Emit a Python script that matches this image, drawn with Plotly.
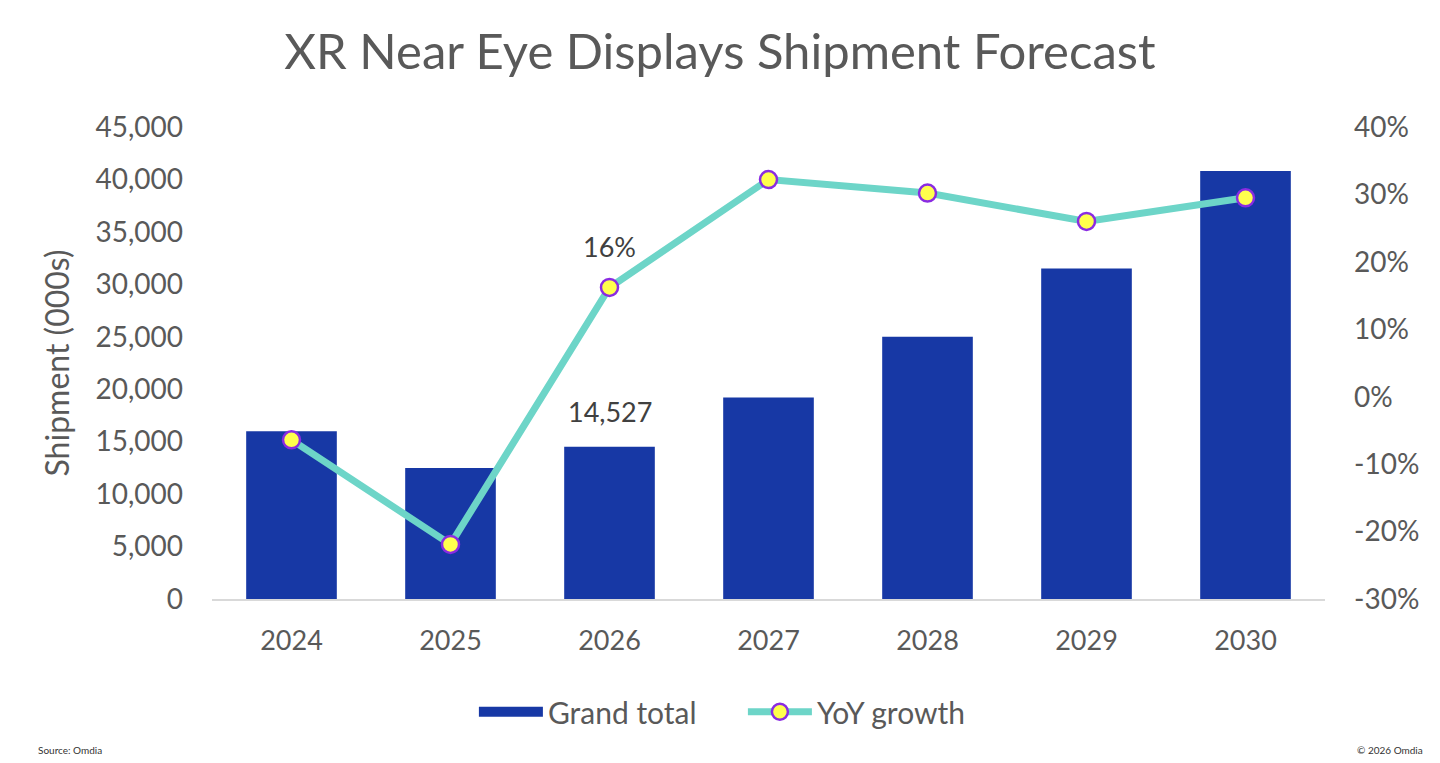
import plotly.graph_objects as go

years = ["2024", "2025", "2026", "2027", "2028", "2029", "2030"]
grand_total = [16000, 12500, 14527, 19200, 25000, 31500, 40800]
yoy_growth = [-0.064, -0.219, 0.162, 0.322, 0.302, 0.260, 0.295]
pct_ticks = [-0.30, -0.20, -0.10, 0.0, 0.10, 0.20, 0.30, 0.40]
pct_tick_labels = ["-30%", "-20%", "-10%", "0%", "10%", "20%", "30%", "40%"]
label_index = 2  # 2026 carries data labels
bar_label = "14,527"
line_label = "16%"

FONT = "Lato, Open Sans, sans-serif"
GREY = "#595959"
BLUE = "#1738A5"

fig = go.Figure()
fig.add_trace(go.Bar(
    x=years, y=grand_total, name="Grand total", showlegend=False,
    marker=dict(color=BLUE, line=dict(width=0)),
))
# legend swatch for bars (wide rectangle)
fig.add_trace(go.Scatter(
    x=[years[0]], y=[None], name="Grand total", mode="lines",
    line=dict(color=BLUE, width=18),
))
fig.add_trace(go.Scatter(
    x=years, y=yoy_growth, name="YoY growth", yaxis="y2",
    mode="lines+markers",
    line=dict(color="#6DD5C8", width=7),
    marker=dict(size=17, color="#FFFF4D", line=dict(color="#8A2BE2", width=2.5)),
    cliponaxis=False,
))

fig.update_layout(
    width=1440, height=763,
    paper_bgcolor="white", plot_bgcolor="white",
    margin=dict(l=204, r=123, t=119, b=172),
    font=dict(family=FONT, color=GREY),
    title=dict(text="XR Near Eye Displays Shipment Forecast", x=0.4944, xanchor="center",
               y=0.942, yanchor="middle", font=dict(size=49, color=GREY, family=FONT)),
    bargap=0.43,
    showlegend=True,
    legend=dict(orientation="h", x=0.477, xanchor="center", y=-0.239, yanchor="middle",
                font=dict(size=30, color=GREY, family=FONT), itemwidth=64,
                entrywidth=190, traceorder="normal"),
    xaxis=dict(type="category", categoryorder="array", categoryarray=years,
               range=[-0.5, len(years) - 0.5],
               showgrid=False, showline=True, linecolor="#D9D9D9", linewidth=2,
               tickfont=dict(size=27, color=GREY), ticks="", ticklabelstandoff=17),
    yaxis=dict(range=[0, 45000], dtick=5000, tickformat=",", showgrid=False, zeroline=False,
               tickfont=dict(size=28, color=GREY), ticklabelstandoff=28,
               title=dict(text="Shipment (000s)", font=dict(size=32, color=GREY), standoff=16)),
    yaxis2=dict(range=[-0.30, 0.40], tickvals=pct_ticks, ticktext=pct_tick_labels,
                overlaying="y", side="right",
                showgrid=False, zeroline=False, tickfont=dict(size=28, color=GREY),
                ticklabelstandoff=28),
    annotations=[
        dict(text=bar_label, x=label_index, y=grand_total[label_index],
             xref="x", yref="y", yshift=35, showarrow=False,
             font=dict(size=27, color="#404040", family=FONT)),
        dict(text=line_label, x=label_index, y=yoy_growth[label_index],
             xref="x", yref="y2", yshift=41, showarrow=False,
             font=dict(size=27, color="#404040", family=FONT)),
        dict(text="Source: Omdia", xref="paper", yref="paper", x=-0.158, y=-0.32,
             xanchor="left", yanchor="middle", showarrow=False,
             font=dict(size=10, color="#333333", family=FONT)),
        dict(text="© 2026 Omdia", xref="paper", yref="paper", x=1.09, y=-0.32,
             xanchor="right", yanchor="middle", showarrow=False,
             font=dict(size=10, color="#333333", family=FONT)),
    ],
)

fig.write_html("out.html")
